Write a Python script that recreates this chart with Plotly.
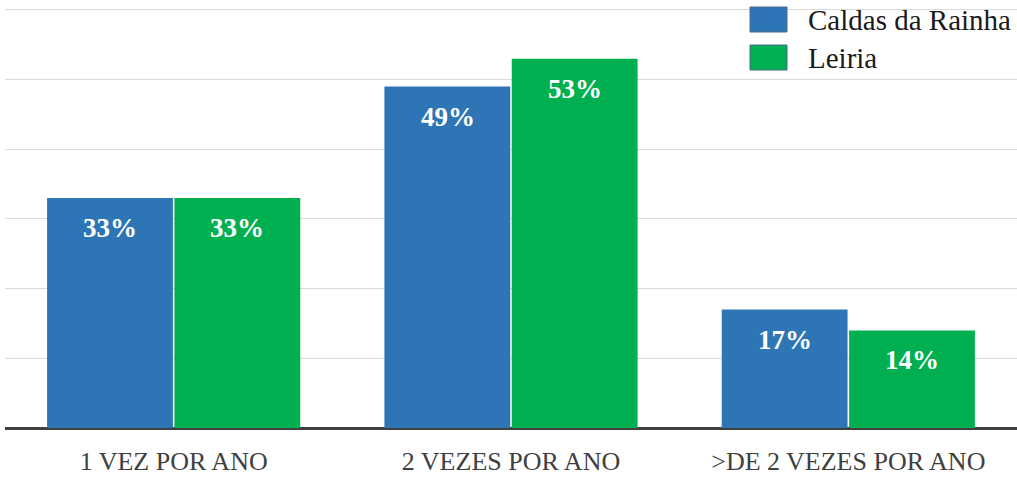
import plotly.graph_objects as go

categories = ["1 VEZ POR ANO", "2 VEZES POR ANO", ">DE 2 VEZES POR ANO"]
series_names = ["Caldas da Rainha", "Leiria"]
caldas = [33, 49, 17]
leiria = [33, 53, 14]
colors = ["#2E75B6", "#00B050"]

serif = "Liberation Serif, Times New Roman, serif"

fig = go.Figure()
for name, vals, col in zip(series_names, [caldas, leiria], colors):
    fig.add_trace(go.Bar(x=categories, y=vals, name=name, marker_color=col,
                         marker_line_width=0, showlegend=False))

# data labels
BAR_SHIFT = 63.5
for i, (vals, sh) in enumerate(zip([caldas, leiria], [-BAR_SHIFT, BAR_SHIFT])):
    for c, v in zip(categories, vals):
        fig.add_annotation(x=c, y=v, text=f"<b>{v}%</b>", showarrow=False,
                           xshift=sh, yshift=-30, yanchor="middle",
                           font=dict(family=serif, size=27, color="white"))

# custom legend
leg_y = [19.5, 57.5]
for name, col, yy in zip(series_names, colors, leg_y):
    fig.add_shape(type="rect", xref="paper", yref="paper",
                  x0=(750 - 5) / 1012, x1=(787 - 5) / 1012,
                  y0=1 - (yy - 12.5) / 428, y1=1 - (yy + 12.5) / 428,
                  fillcolor=col, line=dict(color="#4a6a8a", width=1))
    fig.add_annotation(xref="paper", yref="paper", x=(806 - 5) / 1012, y=1 - yy / 428,
                       text=name, showarrow=False, xanchor="left", yanchor="middle",
                       font=dict(family=serif, size=29, color="#1a1a1a"))

fig.update_layout(
    width=1017, height=481,
    margin=dict(l=5, r=0, t=0, b=53),
    paper_bgcolor="white", plot_bgcolor="white",
    barmode="group", bargap=0.245, bargroupgap=0.012,
    xaxis=dict(showline=False, showgrid=False, ticks="", ticklabelstandoff=15,
               tickfont=dict(family=serif, size=26, color="#404040")),
    yaxis=dict(range=[0, 61.43], dtick=10, showticklabels=False,
               showgrid=True, gridcolor="#d9d9d9", gridwidth=1,
               zeroline=True, zerolinecolor="#404040", zerolinewidth=3,
               showline=False),
)

fig.write_html("out.html")
